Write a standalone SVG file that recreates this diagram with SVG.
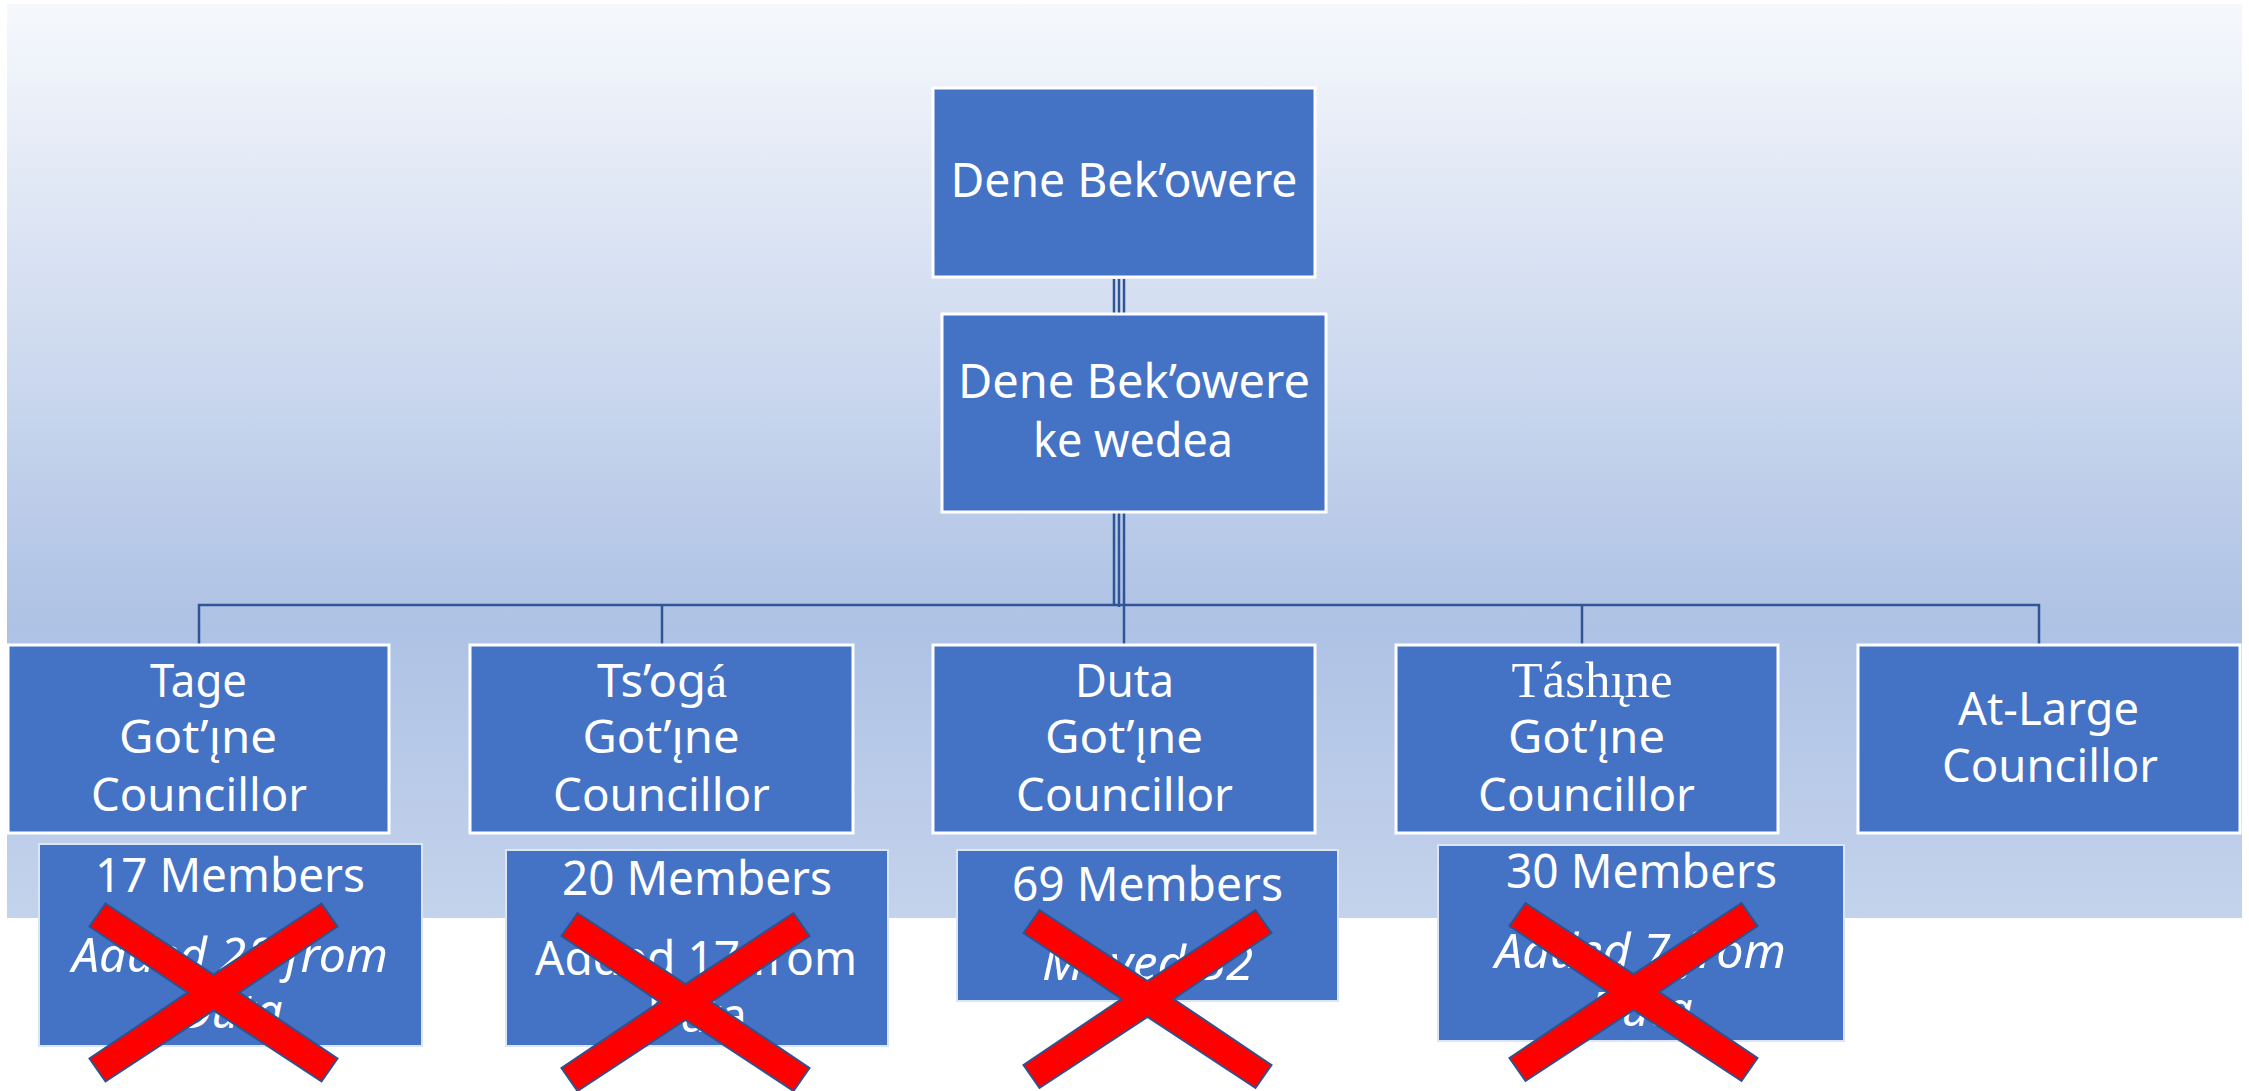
<svg xmlns="http://www.w3.org/2000/svg" xmlns:xlink="http://www.w3.org/1999/xlink" width="2249" height="1091" viewBox="0 0 2249 1091">
<style>
.box{fill:#4472C4;stroke:#FFFFFF;stroke-width:3}
.mbox{fill:#4472C4;stroke:#DCE5F4;stroke-width:2}
.t{font-family:"Noto Sans","Open Sans",sans-serif;font-size:46px;fill:#FFFFFF;text-anchor:middle}
.big{font-size:47px}
.mt{font-size:48px}
.it{font-style:italic}
.serif{font-family:"Liberation Serif","DejaVu Serif",serif}
.sbig{font-size:51px}
.conn{stroke:#2F5597;stroke-width:2.5;fill:none}
.xm{fill:#FF0000;stroke:#2F528F;stroke-width:2;stroke-linejoin:miter}
</style>
<defs>
<linearGradient id="bg" x1="0" y1="0" x2="0" y2="1">
<stop offset="0" stop-color="#F6F8FC"/>
<stop offset="0.68" stop-color="#AEC2E5"/>
<stop offset="1" stop-color="#C4D3EC"/>
</linearGradient>
<path id="xmark" class="xm" d="M-108,-89 L0,-18 L108,-89 L124,-66 L26,0 L124,66 L108,89 L0,18 L-108,89 L-124,66 L-26,0 L-124,-66 Z"/>
</defs>
<rect x="0" y="0" width="2249" height="1091" fill="#FFFFFF"/>
<rect x="7" y="4" width="2235" height="914" fill="url(#bg)"/>

<g id="connectors">
<line class="conn" x1="1114" y1="279" x2="1114" y2="313"/>
<line class="conn" x1="1119" y1="279" x2="1119" y2="313"/>
<line class="conn" x1="1124" y1="279" x2="1124" y2="313"/>
<line class="conn" x1="1114" y1="513" x2="1114" y2="605"/>
<line class="conn" x1="1119" y1="513" x2="1119" y2="607"/>
<line class="conn" x1="1124" y1="513" x2="1124" y2="645"/>
<polyline class="conn" points="199,645 199,605 2039,605 2039,645"/>
<line class="conn" x1="662" y1="605" x2="662" y2="645"/>
<line class="conn" x1="1582" y1="605" x2="1582" y2="645"/>
</g>

<g id="n-dene-bekowere">
<rect class="box" x="933" y="88" width="382" height="189"/>
<text class="t big" x="1124" y="197" textLength="347" lengthAdjust="spacingAndGlyphs">Dene Bek’owere</text>
</g>

<g id="n-ke-wedea">
<rect class="box" x="942" y="314" width="384" height="198"/>
<text class="t big" x="1134" y="398" textLength="352" lengthAdjust="spacingAndGlyphs">Dene Bek’owere</text>
<text class="t big" x="1133" y="457" textLength="200" lengthAdjust="spacingAndGlyphs">ke wedea</text>
</g>

<g id="n-tage">
<rect class="box" x="8" y="645" width="381" height="188"/>
<text class="t" x="198.5" y="697" textLength="97" lengthAdjust="spacingAndGlyphs">Tage</text>
<text class="t" x="198" y="753" textLength="158" lengthAdjust="spacingAndGlyphs">Got’ı̨ne</text>
<text class="t" x="199" y="811" textLength="216" lengthAdjust="spacingAndGlyphs">Councillor</text>
</g>

<g id="n-tsoga">
<rect class="box" x="470" y="645" width="383" height="188"/>
<text class="t" x="662" y="697" textLength="130" lengthAdjust="spacingAndGlyphs">Ts’og<tspan class="serif">á</tspan></text>
<text class="t" x="661" y="753" textLength="157" lengthAdjust="spacingAndGlyphs">Got’ı̨ne</text>
<text class="t" x="661.5" y="811" textLength="217" lengthAdjust="spacingAndGlyphs">Councillor</text>
</g>

<g id="n-duta">
<rect class="box" x="933" y="645" width="382" height="188"/>
<text class="t" x="1124.5" y="697" textLength="99" lengthAdjust="spacingAndGlyphs">Duta</text>
<text class="t" x="1124" y="753" textLength="158" lengthAdjust="spacingAndGlyphs">Got’ı̨ne</text>
<text class="t" x="1124.5" y="811" textLength="217" lengthAdjust="spacingAndGlyphs">Councillor</text>
</g>

<g id="n-tashine">
<rect class="box" x="1396" y="645" width="382" height="188"/>
<text class="t serif sbig" x="1592" y="697" textLength="161" lengthAdjust="spacingAndGlyphs">Táshı̨ne</text>
<text class="t" x="1586.5" y="753" textLength="157" lengthAdjust="spacingAndGlyphs">Got’ı̨ne</text>
<text class="t" x="1586.5" y="811" textLength="217" lengthAdjust="spacingAndGlyphs">Councillor</text>
</g>

<g id="n-at-large">
<rect class="box" x="1858" y="645" width="382" height="188"/>
<text class="t" x="2048.5" y="725" textLength="181" lengthAdjust="spacingAndGlyphs">At-Large</text>
<text class="t" x="2050" y="782" textLength="216" lengthAdjust="spacingAndGlyphs">Councillor</text>
</g>

<g id="n-members-tage">
<rect class="mbox" x="39" y="844" width="383" height="202"/>
<text class="t mt" x="230" y="892" textLength="270" lengthAdjust="spacingAndGlyphs">17 Members</text>
<text class="t mt it" x="230" y="972" textLength="316" lengthAdjust="spacingAndGlyphs">Added 28 from</text>
<text class="t mt it" x="231" y="1028" textLength="103" lengthAdjust="spacingAndGlyphs">Duta</text>
<use xlink:href="#xmark" x="213.5" y="992.5"/>
</g>

<g id="n-members-tsoga">
<rect class="mbox" x="506" y="850" width="382" height="196"/>
<text class="t mt" x="697" y="895" textLength="270" lengthAdjust="spacingAndGlyphs">20 Members</text>
<text class="t mt" x="696" y="975" textLength="322" lengthAdjust="spacingAndGlyphs">Added 17 from</text>
<text class="t mt" x="697" y="1032" textLength="99" lengthAdjust="spacingAndGlyphs">Duta</text>
<use xlink:href="#xmark" x="685.5" y="1002"/>
</g>

<g id="n-members-duta">
<rect class="mbox" x="957" y="850" width="381" height="151"/>
<text class="t mt" x="1147.5" y="901" textLength="271" lengthAdjust="spacingAndGlyphs">69 Members</text>
<text class="t mt it" x="1147.5" y="980" textLength="211" lengthAdjust="spacingAndGlyphs">Moved 52</text>
<use xlink:href="#xmark" x="1147.5" y="999"/>
</g>

<g id="n-members-tashine">
<rect class="mbox" x="1438" y="845" width="406" height="196"/>
<text class="t mt" x="1641.5" y="888" textLength="271" lengthAdjust="spacingAndGlyphs">30 Members</text>
<text class="t mt it" x="1640.5" y="968" textLength="291" lengthAdjust="spacingAndGlyphs">Added 7 from</text>
<text class="t mt it" x="1641" y="1026" textLength="103" lengthAdjust="spacingAndGlyphs">Duta</text>
<use xlink:href="#xmark" x="1633.5" y="992"/>
</g>
</svg>
